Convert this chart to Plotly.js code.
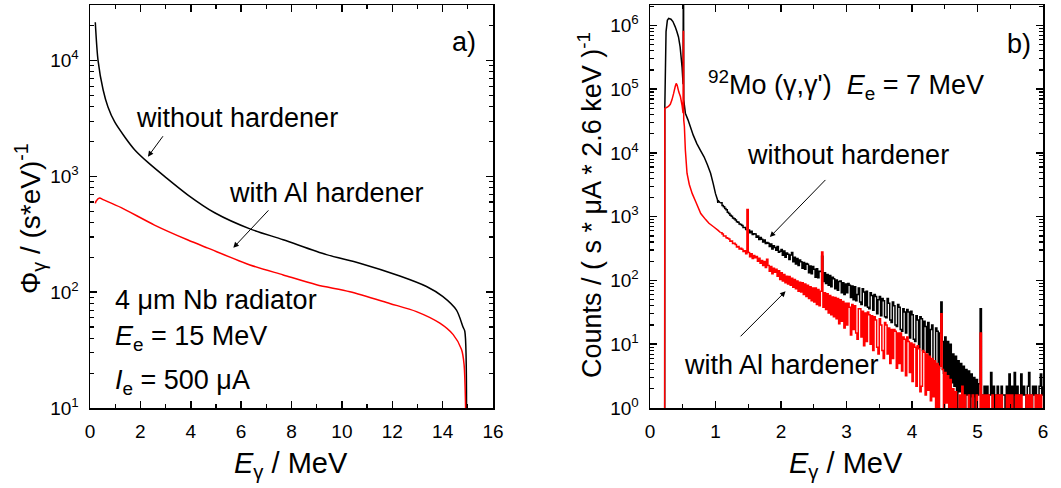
<!DOCTYPE html>
<html>
<head>
<meta charset="utf-8">
<script src="https://cdn.plot.ly/plotly-3.0.1.min.js"></script>
<style>
  html, body { margin: 0; padding: 0; background: #fff; }
  #chart { width: 1061px; height: 488px; }
</style>
</head>
<body>
<div id="chart"></div>
<script>
// ---------- panel a) : photon flux of the bremsstrahlung beam ----------
const fluxEnergyNoHardener = [0.21, 0.32, 0.52, 0.71, 0.98, 1.38, 1.77, 2.30, 2.96, 3.89, 4.95, 6.35,
  7.67, 9.39, 10.71, 12.3, 13.36, 14.0, 14.55, 14.81, 14.88, 14.95];
const fluxNoHardener = [21400, 10000, 5600, 4000, 2950, 2190, 1700, 1320, 1000, 690, 485, 352,
  284, 211, 178, 138, 112, 92, 70, 50, 46, 8];

const fluxEnergyAlHardener = [0.21, 0.24, 0.38, 0.52, 1.24, 2.56, 3.89, 4.68, 6.35, 7.67, 8.99, 10.32,
  11.9, 12.96, 13.89, 14.42, 14.75, 14.85, 14.92];
const fluxAlHardener = [585, 610, 650, 630, 537, 380, 282, 240, 172, 141, 116, 101,
  80, 68, 54, 43, 32, 24, 8];

// ---------- panel b) : measured 92Mo(γ,γ') spectra ----------
// low-energy part (annihilation peak region), energies in MeV
const lowEnergyNoHardener = [0.224, 0.226, 0.245, 0.265, 0.285, 0.32, 0.35, 0.385, 0.41, 0.435, 0.46,
  0.49, 0.505, 0.509, 0.512, 0.515, 0.54, 0.58, 0.615, 0.66, 0.715, 0.77, 0.825, 0.875, 0.925, 0.965,
  1.0, 1.03, 1.035, 1.04, 1.07];
const lowCountsNoHardener = [0.3, 5.0e4, 8.0e5, 1.2e6, 1.29e6, 1.25e6, 1.15e6, 9.5e5, 8.0e5, 6.6e5, 4.6e5,
  2.2e5, 1.2e5, 1e7, 1e7, 6.8e4, 4.2e4, 3.3e4, 2.6e4, 1.9e4, 1.4e4, 1.1e4, 8.7e3, 6.6e3, 4.8e3, 3.3e3,
  2.3e3, 1.85e3, 1.65e3, 1.8e3, 1.65e3];

const lowEnergyAlHardener = [0.224, 0.226, 0.26, 0.285, 0.31, 0.335, 0.36, 0.385, 0.40, 0.415, 0.44,
  0.465, 0.49, 0.505, 0.509, 0.512, 0.515, 0.525, 0.54, 0.565, 0.60, 0.645, 0.70, 0.775, 0.85, 0.90,
  0.975, 1.04, 1.08];
const lowCountsAlHardener = [0.3, 5.0e4, 5.2e4, 5.4e4, 5.8e4, 6.8e4, 8.5e4, 1.1e5, 1.23e5, 1.15e5, 9.0e4,
  7.6e4, 5.5e4, 4.2e4, 8e5, 8e5, 3.3e4, 2.6e4, 1.1e4, 4.8e3, 3.2e3, 2.3e3, 1.7e3, 1.12e3, 900, 790,
  690, 610, 560];

// spectrum above 1.1 MeV, one value per 20 keV bin
const binStart = 1.10, binWidth = 0.02;
const countsNoHardener = [
  1500, 1430, 1340, 1280, 1170,
  1120, 1050, 1020, 950, 925,
  890, 830, 815, 765, 752,
  725, 680, 675, 630, 632,
  620, 560, 590, 525, 540,
  535, 478, 500, 440, 470,
  445, 402, 432, 380, 395,
  385, 340, 372, 312, 350,
  330, 298, 340, 278, 286,
  305, 248, 290, 232, 270,
  258, 214, 250, 275, 196,
  232, 182, 222, 172, 210,
  196, 156, 192, 150, 184,
  180, 132, 168, 128, 165,
  150, 112, 152, 110, 140,
  138, 240, 96, 132, 90,
  124, 84, 120, 80, 112,
  106, 74, 102, 70, 96,
  98, 64, 92, 60, 88,
  64, 90, 84, 54, 82,
  50, 80, 48, 60, 76,
  46, 42, 74, 66, 40,
  68, 38, 36, 64, 58,
  34, 60, 56, 30, 50,
  56, 28, 52, 48, 27,
  26, 52, 44, 24, 22,
  46, 40, 20, 19, 42,
  38, 17, 16, 36, 32,
  15, 35, 32, 12.5, 33,
  29, 12, 11, 28, 24,
  9, 27, 25, 8, 23,
  19, 7.5, 22, 6.5, 17,
  20, 5.5, 4.8, 18, 16,
  4.2, 15, 46, 11, 3.5,
  13, 3, 11, 2.4, 10,
  2.5, 7, 2.2, 6.5, 0.3,
  5.5, 1.8, 5, 1.5, 4.5,
  0.3, 4, 1.6, 3.8, 0.3,
  3.4, 1.5, 3, 0.3, 2.8,
  1.6, 2.4, 36, 1.6, 0.3,
  2.2, 1.6, 2.2, 0.3, 1.6,
  3.6, 1.6, 2.2, 0.3, 1.6,
  2.2, 1.6, 0.3, 2.2, 1.6,
  1.6, 0.3, 2.2, 1.6, 3.4,
  1.6, 2.2, 0.3, 3.6, 1.6,
  2.2, 0.3, 1.6, 3.4, 1.6,
  2.2, 1.6, 0.3, 2.2, 3.6,
  1.6, 0.3, 2.2, 1.6, 2.2,
  0.3, 1.6, 2.2, 3.4, 1.6,
  2.2
];
const countsAlHardener = [
  535, 500, 498, 466, 458,
  446, 412, 414, 380, 382,
  368, 334, 342, 312, 320,
  310, 284, 292, 262, 1300,
  275, 236, 262, 222, 246,
  228, 238, 200, 224, 186,
  205, 172, 198, 160, 215,
  172, 140, 166, 128, 156,
  134, 150, 116, 142, 104,
  132, 98, 124, 92, 116,
  88, 115, 84, 108, 78,
  104, 74, 98, 68, 94,
  66, 92, 60, 88, 56,
  84, 52, 80, 48, 76,
  46, 76, 42, 72, 40,
  68, 280, 38, 64, 35,
  62, 31, 58, 29, 55,
  27, 54, 25, 52, 21,
  50, 23, 47, 18, 44,
  20, 44, 38, 14, 42,
  17, 40, 15, 12, 36,
  36, 13, 33, 9.5, 31,
  11, 32, 29, 10, 28,
  8, 27, 24, 9, 7,
  25, 20, 8, 6, 22,
  20, 7, 18, 5, 17,
  6, 17, 16, 4.2, 15,
  5, 15, 3.8, 13, 12,
  3.2, 13, 11, 3.6, 10.5,
  2.6, 10, 9, 2.2, 9.5,
  8.5, 1.8, 2.2, 8, 7.5,
  1.6, 7, 1.9, 6.5, 1.3,
  6, 1.5, 5.5, 0.3, 5,
  0.3, 4.5, 30, 4, 0.3,
  3.6, 1.2, 3.2, 0.3, 2.8,
  0.3, 2, 0.3, 1.8, 0.3,
  0.3, 1.6, 0.3, 2.2, 0.3,
  1.6, 0.3, 0.3, 1.6, 0.3,
  0.3, 1.6, 0.3, 0.3, 1.6,
  0.3, 0.3, 15, 0.3, 1.6,
  0.3, 1.6, 0.3, 1.6, 0.3,
  0.3, 1.6, 0.3, 0.3, 1.6,
  0.3, 1.6, 0.3, 1.6, 0.3,
  0.3, 0.3, 1.6, 0.3, 1.6,
  0.3, 1.6, 0.3, 0.3, 1.6,
  0.3, 1.6, 0.3, 1.6, 0.3,
  0.3, 0.3, 1.6, 0.3, 1.6,
  0.3, 1.6, 0.3, 0.3, 1.6,
  0.3, 1.6, 0.3, 1.6, 0.3,
  0.3
];

// tick labels
const fluxTickVals = [10, 100, 1000, 10000];
const fluxTickText = ['10<sup>1</sup>', '10<sup>2</sup>', '10<sup>3</sup>', '10<sup>4</sup>'];
const countTickVals = [1, 10, 100, 1000, 1e4, 1e5, 1e6];
const countTickText = ['10<sup>0</sup>', '10<sup>1</sup>', '10<sup>2</sup>', '10<sup>3</sup>',
  '10<sup>4</sup>', '10<sup>5</sup>', '10<sup>6</sup>'];

// ---------- build ----------
const binEnergies = countsNoHardener.map((_, i) => +(binStart + i * binWidth).toFixed(3));
const lastNo = lowEnergyNoHardener.length - 1;
const lastAl = lowEnergyAlHardener.length - 1;
// binned part is drawn as a histogram step line, continuing from the last low-energy point
const binENo = [lowEnergyNoHardener[lastNo]].concat(binEnergies);
const binCNo = [lowCountsNoHardener[lastNo]].concat(countsNoHardener);
const binEAl = [lowEnergyAlHardener[lastAl]].concat(binEnergies);
const binCAl = [lowCountsAlHardener[lastAl]].concat(countsAlHardener);

function logMinor(kFrom, kTo, maxVal) {
  const v = [];
  for (let k = kFrom; k <= kTo; k++) {
    for (let d = 2; d <= 9; d++) {
      const t = d * Math.pow(10, k);
      if (t <= maxVal) v.push(t);
    }
  }
  return v;
}

const W = 1061, H = 488;
const px = x => x / W;
const py = y => 1 - y / H;
const FONT = 'Liberation Sans, Arial, Helvetica, sans-serif';
const RED = '#ff0000';

const specLine = (color, shape) => ({ color: color, width: 1.5, shape: shape, simplify: false });

const traces = [
  { x: fluxEnergyNoHardener, y: fluxNoHardener, xaxis: 'x', yaxis: 'y', mode: 'lines',
    line: { color: '#000', width: 1.5, shape: 'spline', smoothing: 0.8 }, hoverinfo: 'skip' },
  { x: fluxEnergyAlHardener, y: fluxAlHardener, xaxis: 'x', yaxis: 'y', mode: 'lines',
    line: { color: RED, width: 1.5, shape: 'spline', smoothing: 0.8 }, hoverinfo: 'skip' },
  { x: lowEnergyNoHardener, y: lowCountsNoHardener, xaxis: 'x2', yaxis: 'y2', mode: 'lines',
    line: specLine('#000', 'linear'), hoverinfo: 'skip' },
  { x: binENo, y: binCNo, xaxis: 'x2', yaxis: 'y2', mode: 'lines',
    line: specLine('#000', 'hv'), hoverinfo: 'skip' },
  { x: lowEnergyAlHardener, y: lowCountsAlHardener, xaxis: 'x2', yaxis: 'y2', mode: 'lines',
    line: specLine(RED, 'linear'), hoverinfo: 'skip' },
  { x: binEAl, y: binCAl, xaxis: 'x2', yaxis: 'y2', mode: 'lines',
    line: specLine(RED, 'hv'), hoverinfo: 'skip' }
];

const axisCommon = {
  showline: true, linecolor: '#000', linewidth: 1.5, mirror: 'allticks',
  ticks: 'inside', ticklen: 7, tickwidth: 1.5, tickcolor: '#000',
  showgrid: false, zeroline: false, ticklabelstandoff: 6,
  tickfont: { family: FONT, size: 19, color: '#000' }
};

const yDomain = [py(408), py(5)];

const layout = {
  width: W, height: H,
  margin: { l: 0, r: 0, t: 0, b: 0, pad: 0 },
  paper_bgcolor: '#fff', plot_bgcolor: '#fff',
  showlegend: false,
  font: { family: FONT, color: '#000' },
  xaxis: Object.assign({}, axisCommon, {
    domain: [px(90), px(493)], range: [0, 16], tickmode: 'array',
    tickvals: [0, 2, 4, 6, 8, 10, 12, 14, 16],
    minor: { tickmode: 'array', tickvals: [1, 3, 5, 7, 9, 11, 13, 15], ticks: 'inside', ticklen: 4, tickwidth: 1.2, tickcolor: '#000', showgrid: false },
    anchor: 'y'
  }),
  yaxis: Object.assign({}, axisCommon, {
    domain: yDomain, type: 'log', range: [1, 4.48], tickmode: 'array',
    tickvals: fluxTickVals, ticktext: fluxTickText,
    minor: { tickmode: 'array', tickvals: logMinor(1, 4, 30200), ticks: 'inside', ticklen: 4, tickwidth: 1.2, tickcolor: '#000', showgrid: false },
    anchor: 'x'
  }),
  xaxis2: Object.assign({}, axisCommon, {
    domain: [px(650), px(1043)], range: [0, 6], tickmode: 'array',
    tickvals: [0, 1, 2, 3, 4, 5, 6],
    minor: { tickmode: 'array', tickvals: [0.5, 1.5, 2.5, 3.5, 4.5, 5.5], ticks: 'inside', ticklen: 4, tickwidth: 1.2, tickcolor: '#000', showgrid: false },
    anchor: 'y2'
  }),
  yaxis2: Object.assign({}, axisCommon, {
    domain: yDomain, type: 'log', range: [0, 6.32], tickmode: 'array',
    tickvals: countTickVals, ticktext: countTickText,
    minor: { tickmode: 'array', tickvals: logMinor(0, 6, 2.09e6), ticks: 'inside', ticklen: 4, tickwidth: 1.2, tickcolor: '#000', showgrid: false },
    anchor: 'x2'
  }),
  annotations: []
};

const ANN = 27;
function label(text, x, y, opts) {
  layout.annotations.push(Object.assign({
    text: text, xref: 'paper', yref: 'paper', x: px(x), y: py(y),
    xanchor: 'left', yanchor: 'middle', showarrow: false,
    font: { family: FONT, size: ANN, color: '#000' }
  }, opts || {}));
}
function arrow(xref, yref, tailX, tailY, headX, headY) {
  layout.annotations.push({
    text: '', xref: xref, yref: yref, axref: xref, ayref: yref,
    x: headX, y: Math.log10(headY), ax: tailX, ay: Math.log10(tailY),
    showarrow: true, arrowhead: 2, arrowsize: 1.1, arrowwidth: 1, arrowcolor: '#000', standoff: 0
  });
}

// panel a) texts
label('a)', 450, 42);
label('without hardener', 134, 118);
label('with Al hardener', 227, 193);
label('4 μm Nb radiator', 113, 300);
label('<i>E</i><sub>e</sub> = 15 MeV', 113, 338);
label('<i>I</i><sub>e</sub> = 500 μA', 113, 382);
arrow('x', 'y', 2.94, 2290, 2.30, 1480);
arrow('x', 'y', 7.14, 524, 5.69, 242);

// panel b) texts
label('b)', 1005, 44);
label('<sup>92</sup>Mo (γ,γ\')\u00a0\u00a0<i>E</i><sub>e</sub> = 7 MeV', 706, 85);
label('without hardener', 745, 155);
label('with Al hardener', 682, 365);
arrow('x2', 'y2', 2.70, 3980, 1.83, 479);
arrow('x2', 'y2', 1.36, 12.6, 2.07, 67.6);

// axis titles
const TITLE = 29;
label('<i>E</i><sub>γ</sub> / MeV', 291, 465, { xanchor: 'center', font: { family: FONT, size: TITLE, color: '#000' } });
label('<i>E</i><sub>γ</sub> / MeV', 846, 465, { xanchor: 'center', font: { family: FONT, size: TITLE, color: '#000' } });
label('Φ<sub>γ</sub> / (s*eV)<sup>-1</sup>', 30, 219, { xanchor: 'center', textangle: -90, font: { family: FONT, size: TITLE - 1, color: '#000' } });
label('Counts / ( s * μA * 2.6 keV )<sup>-1</sup>', 590, 205, { xanchor: 'center', textangle: -90, font: { family: FONT, size: TITLE - 2, color: '#000' } });

Plotly.newPlot('chart', traces, layout, { staticPlot: true, displayModeBar: false });
</script>
</body>
</html>
